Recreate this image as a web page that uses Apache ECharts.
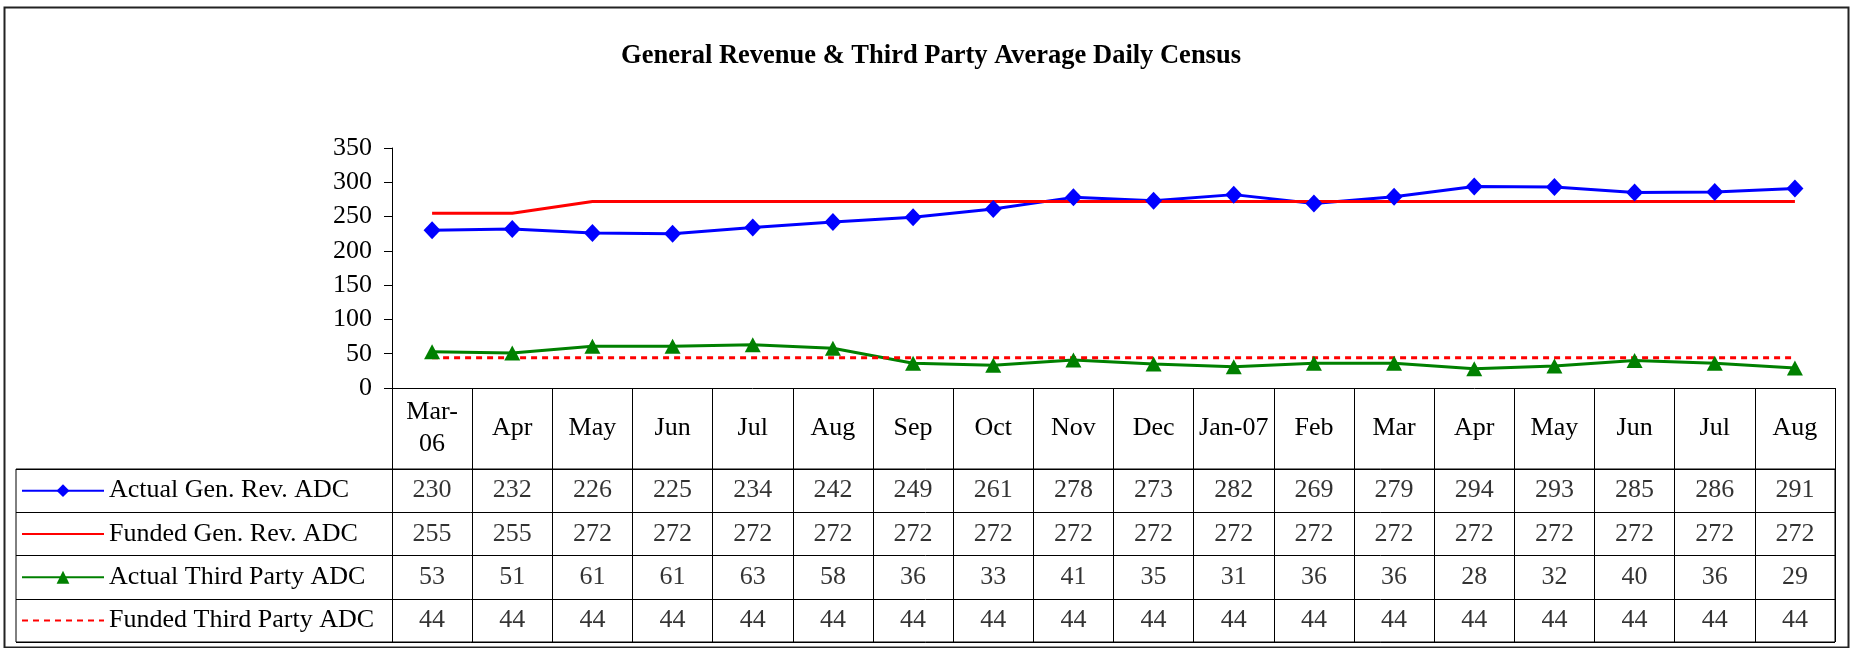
<!doctype html>
<html>
<head>
<meta charset="utf-8" />
<script src="https://cdn.jsdelivr.net/npm/echarts@6/dist/echarts.min.js"></script>
<style>
html, body { margin: 0; padding: 0; background: #fff; }
#chart { width: 1862px; height: 648px; }
</style>
</head>
<body>
<div id="chart"></div>
<script>
// months shown in the header row of the data table
const months = ['Mar-\n06', 'Apr', 'May', 'Jun', 'Jul', 'Aug', 'Sep', 'Oct', 'Nov', 'Dec',
    'Jan-07', 'Feb', 'Mar', 'Apr', 'May', 'Jun', 'Jul', 'Aug'];

const actualGenRev = [230, 232, 226, 225, 234, 242, 249, 261, 278, 273, 282, 269, 279, 294, 293, 285, 286, 291];
const fundedGenRev = [255, 255, 272, 272, 272, 272, 272, 272, 272, 272, 272, 272, 272, 272, 272, 272, 272, 272];
const actualThird = [53, 51, 61, 61, 63, 58, 36, 33, 41, 35, 31, 36, 36, 28, 32, 40, 36, 29];
const fundedThird = [44, 44, 44, 44, 44, 44, 44, 44, 44, 44, 44, 44, 44, 44, 44, 44, 44, 44];

const seriesNames = ['Actual Gen. Rev. ADC', 'Funded Gen. Rev. ADC', 'Actual Third Party ADC', 'Funded Third Party ADC'];
const yTicks = { min: 0, max: 350, interval: 50 };

const FONT = 'Liberation Serif, Times New Roman, serif';
const rows = [actualGenRev, fundedGenRev, actualThird, fundedThird];

// table cell values: [column, row, value]
let cells = [];
rows.forEach((row, i) => {
    row.forEach((v, j) => {
        cells.push([j, i, v]);
    });
});

const myChart = echarts.init(document.getElementById('chart'));

let options = {
    animation: false,
    title: {
        text: 'General Revenue & Third Party Average Daily Census',
        left: 'center',
        top: 38,
        textStyle: {
            fontFamily: FONT,
            fontSize: 26.5,
            fontWeight: 'bold',
            color: '#000'
        }
    },
    legend: {
        orient: 'vertical',
        left: 21,
        top: 469,
        padding: 0,
        itemWidth: 82,
        itemHeight: 16,
        itemGap: 0,
        data: [
            { name: seriesNames[0] },
            { name: seriesNames[1], itemStyle: { opacity: 0 } },
            { name: seriesNames[2] },
            { name: seriesNames[3], itemStyle: { opacity: 0 } }
        ],
        textStyle: {
            fontFamily: FONT,
            fontSize: 26,
            lineHeight: 43.3,
            color: '#000'
        }
    },
    graphic: [{
        type: 'rect',
        shape: { x: 4.5, y: 7.5, width: 1844, height: 640 },
        style: { fill: 'none', stroke: '#222', lineWidth: 2 },
        silent: true
    }],
    grid: [
        // plot area
        { left: 392, right: 27, top: 148, bottom: 260 },
        // table borders (including legend column)
        { left: 16, right: 27, top: 469, bottom: 6, show: true, borderColor: '#000', borderWidth: 1 },
        // table values
        { left: 392, right: 27, top: 469, bottom: 6 }
    ],
    xAxis: [{
        gridIndex: 0,
        type: 'category',
        data: months,
        boundaryGap: true,
        axisLine: { lineStyle: { color: '#000', width: 1 } },
        axisTick: { show: true, interval: 0, length: 254, alignWithLabel: false, lineStyle: { color: '#000', width: 1 } },
        axisLabel: {
            interval: 0,
            margin: 40,
            verticalAlign: 'middle',
            fontFamily: FONT,
            fontSize: 26,
            lineHeight: 32,
            color: '#000'
        }
    }, {
        gridIndex: 1,
        type: 'value',
        min: 0,
        max: 1,
        show: false
    }, {
        gridIndex: 2,
        type: 'category',
        data: months,
        show: false
    }],
    yAxis: [{
        gridIndex: 0,
        type: 'value',
        min: yTicks.min,
        max: yTicks.max,
        interval: yTicks.interval,
        axisLine: { show: true, lineStyle: { color: '#000', width: 1 } },
        axisTick: { show: true, length: 8, lineStyle: { color: '#000' } },
        splitLine: { show: false },
        axisLabel: {
            margin: 20,
            fontFamily: FONT,
            fontSize: 26,
            color: '#000'
        }
    }, {
        gridIndex: 1,
        type: 'category',
        inverse: true,
        data: seriesNames,
        axisLine: { show: false },
        axisTick: { show: false },
        axisLabel: { show: false },
        splitLine: { show: true, interval: 0, lineStyle: { color: '#000', width: 1 } }
    }, {
        gridIndex: 2,
        type: 'category',
        inverse: true,
        data: seriesNames,
        show: false
    }],
    series: [{
        name: seriesNames[0],
        type: 'line',
        data: actualGenRev,
        symbol: 'diamond',
        symbolSize: [17, 18],
        color: '#0000ff',
        lineStyle: { color: '#0000ff', width: 3 },
        itemStyle: { color: '#0000ff' }
    }, {
        name: seriesNames[1],
        type: 'line',
        data: fundedGenRev,
        symbol: 'none',
        color: '#ff0000',
        lineStyle: { color: '#ff0000', width: 3 }
    }, {
        name: seriesNames[2],
        type: 'line',
        data: actualThird,
        symbol: 'triangle',
        symbolSize: [16, 15],
        color: '#008000',
        lineStyle: { color: '#008000', width: 3 },
        itemStyle: { color: '#008000' }
    }, {
        name: seriesNames[3],
        type: 'line',
        data: fundedThird,
        symbol: 'none',
        color: '#ff0000',
        lineStyle: { color: '#ff0000', width: 3, type: [6, 5] }
    }, {
        name: 'table',
        type: 'scatter',
        xAxisIndex: 2,
        yAxisIndex: 2,
        data: cells,
        symbolSize: 2,
        itemStyle: { color: 'rgba(0,0,0,0)' },
        label: {
            show: true,
            position: 'inside',
            formatter: p => String(p.value[2]),
            fontFamily: FONT,
            fontSize: 26,
            color: '#000'
        },
        silent: true
    }]
};

myChart.setOption(options);
</script>
</body>
</html>
